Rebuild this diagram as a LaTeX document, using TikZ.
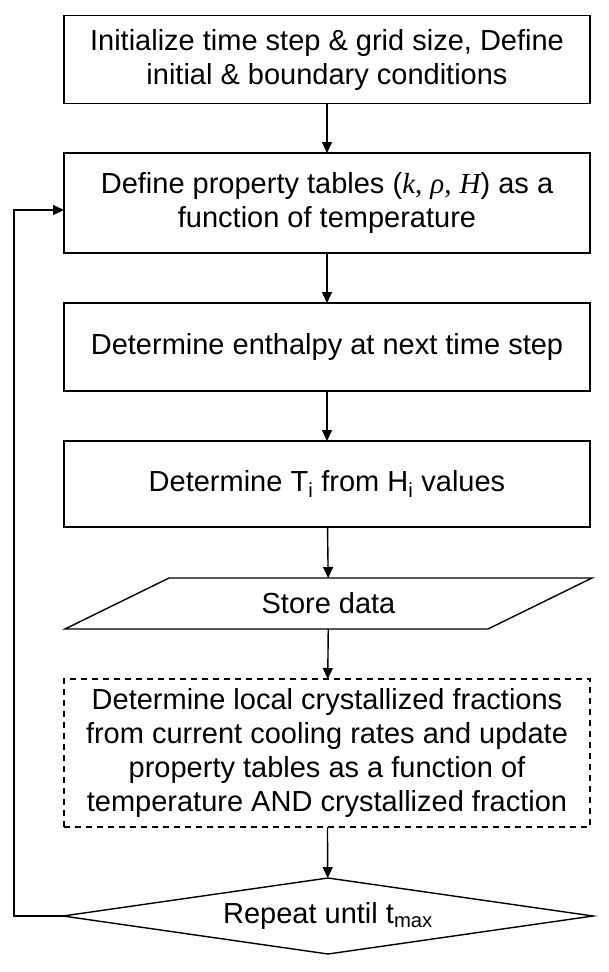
\documentclass[tikz,border=0pt]{standalone}
\usepackage{fontspec}
\setmainfont{Liberation Sans}
\newfontfamily\serifit{Liberation Serif}
\usetikzlibrary{shapes.geometric,arrows.meta}
\tikzset{
  box/.style={draw, minimum width=526pt, align=center, inner sep=0pt, outer sep=0pt},
  iobox/.style={minimum width=423pt, minimum height=51pt, inner sep=0pt, outer sep=0pt},
  decide/.style={diamond, draw, shape aspect=7, minimum width=530pt, minimum height=76pt, inner sep=0pt, outer sep=0pt},
  flow/.style={-{Triangle[length=11pt,width=10pt]}}
}
\newcommand{\vari}[1]{{\serifit\itshape #1}}
\begin{document}
\begin{tikzpicture}[x=1pt,y=-1pt,line width=1.4pt,font=\fontsize{29}{34}\selectfont]
  \useasboundingbox (0,0) rectangle (609,972);
  \draw
    (327,59.7) node[box,minimum height=88pt] (init){Initialize time step \& grid size, Define\\initial \& boundary conditions}
    (327,203) node[box,minimum height=100pt] (props){Define property tables (\vari{k}{\serifit,} \vari{ρ}{\serifit,} \vari{H}) as a\\function of temperature}
    (327,347) node[box,minimum height=88pt] (enth){Determine enthalpy at next time step}
    (327,484) node[box,minimum height=86pt] (temp){Determine T\textsubscript{i} from H\textsubscript{i} values}
    (328.5,603.5) node[iobox] (store){Store data}
    (327,753) node[box,dashed,dash pattern=on 6pt off 5pt,minimum height=148pt] (crys){Determine local crystallized fractions\\from current cooling rates and update\\property tables as a function of\\temperature AND crystallized fraction}
    (328,916) node[decide] (repeat){Repeat until t\textsubscript{max}};
  % parallelogram round the store node
  \draw ([xshift=52pt]store.north west) -- ([xshift=52pt]store.north east)
    -- ([xshift=-52pt]store.south east) -- ([xshift=-52pt]store.south west) -- cycle;
  \coordinate (back) at (14,916);
  \begin{scope}[flow]
    \draw (init) to (props);
    \draw (props) to (enth);
    \draw (enth) to (temp);
    \draw (temp) to (store);
    \draw (store) to (crys);
    \draw (crys) to (repeat);
    \draw (repeat.west) -- (back) |- ([yshift=-7pt]props.west);
  \end{scope}
\end{tikzpicture}
\end{document}
